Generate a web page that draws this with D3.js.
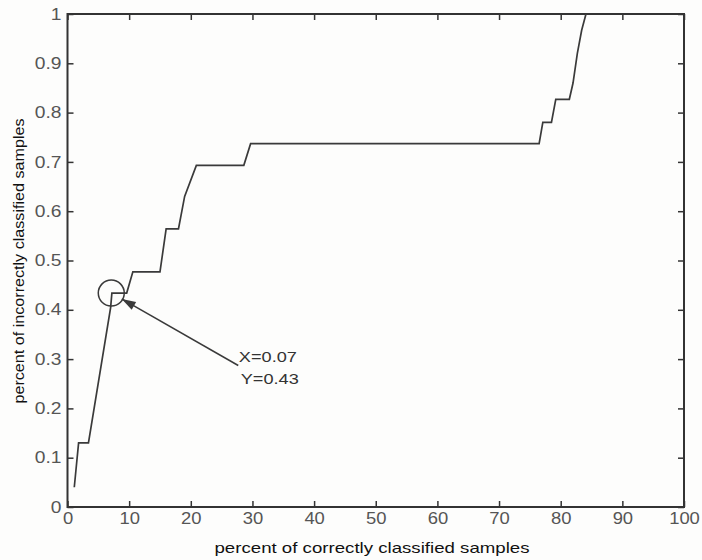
<!DOCTYPE html>
<html>
<head>
<meta charset="utf-8">
<script src="https://cdn.jsdelivr.net/npm/d3@7"></script>
<style>
body{margin:0;background:#fdfdfc;}
text{font-family:"Liberation Sans",Arial,sans-serif;}
</style>
</head>
<body>
<script>
// curve (x in percent, y as fraction)
var xCorrect=[1.1,1.8,3.4,7.0,7.2,9.6,10.6,15.0,16.0,18.0,19.0,20.9,28.6,29.7,76.5,77.1,78.5,79.2,81.4,82.0,82.7,83.4,84.1];
var yIncorrect=[0.04,0.13,0.13,0.405,0.434,0.434,0.477,0.477,0.564,0.564,0.63,0.693,0.693,0.737,0.737,0.78,0.78,0.827,0.827,0.86,0.92,0.967,1.0];
var xTicks=[0,10,20,30,40,50,60,70,80,90,100];
var yTicks=[0,0.1,0.2,0.3,0.4,0.5,0.6,0.7,0.8,0.9,1];
var yTickLabels=["0","0.1","0.2","0.3","0.4","0.5","0.6","0.7","0.8","0.9","1"];
var markPoint=[7.1,0.434];
var arrowFrom=[27.7,0.287],arrowTo=[8.8,0.422];
var noteLines=["X=0.07","Y=0.43"];
var noteX=[27.8,28.1],noteY=[0.294,0.249];

var W=702,H=560;
var x=d3.scaleLinear().domain([0,100]).range([67.5,684]);
var y=d3.scaleLinear().domain([0,1]).range([507,14]);

var svg=d3.select("body").append("svg").attr("width",W).attr("height",H);

function stretch(sel,k){
	sel.each(function(){
		var w=this.getComputedTextLength();
		d3.select(this).attr("textLength",w*k).attr("lengthAdjust","spacingAndGlyphs");
	});
}

// axes, ticks pointing in like matlab
var gx=svg.append("g").attr("transform","translate(0,"+y(0)+")")
	.call(d3.axisBottom(x).tickValues(xTicks).tickSizeInner(-6).tickSizeOuter(0).tickPadding(6));
var gy=svg.append("g").attr("transform","translate("+x(0)+",0)")
	.call(d3.axisLeft(y).tickValues(yTicks).tickFormat(function(d,i){return yTickLabels[i];}).tickSizeInner(-6).tickSizeOuter(0).tickPadding(6));
var gt=svg.append("g").attr("transform","translate(0,"+y(1)+")")
	.call(d3.axisTop(x).tickValues(xTicks).tickFormat("").tickSizeInner(-6).tickSizeOuter(0));
var gr=svg.append("g").attr("transform","translate("+x(100)+",0)")
	.call(d3.axisRight(y).tickValues(yTicks).tickFormat("").tickSizeInner(-6).tickSizeOuter(0));

[gx,gy,gt,gr].forEach(function(g){
	g.select(".domain").remove();
	g.selectAll("line").attr("stroke","#333").attr("stroke-width",1.5);
	g.selectAll("text").attr("fill","#555").style("font-size","16px");
});
stretch(gx.selectAll("text"),1.15);
stretch(gy.selectAll("text"),1.2);

svg.append("rect")
	.attr("x",x(0)).attr("y",y(1))
	.attr("width",x(100)-x(0)).attr("height",y(0)-y(1))
	.attr("fill","none").attr("stroke","#333").attr("stroke-width",2);

// the curve
var pts=xCorrect.map(function(d,i){return [d,yIncorrect[i]];});
svg.append("path")
	.attr("d",d3.line().x(function(d){return x(d[0]);}).y(function(d){return y(d[1]);})(pts))
	.attr("fill","none").attr("stroke","#3a3a3a").attr("stroke-width",1.7);

// marker circle
svg.append("circle")
	.attr("cx",x(markPoint[0])).attr("cy",y(markPoint[1])).attr("r",13)
	.attr("fill","none").attr("stroke","#3a3a3a").attr("stroke-width",1.5);

// arrow
var x1=x(arrowFrom[0]),y1=y(arrowFrom[1]),x2=x(arrowTo[0]),y2=y(arrowTo[1]);
svg.append("line").attr("x1",x1).attr("y1",y1).attr("x2",x2).attr("y2",y2)
	.attr("stroke","#3a3a3a").attr("stroke-width",1.5);
var ang=Math.atan2(y2-y1,x2-x1),L=14,hw=4.5;
var bx=x2-L*Math.cos(ang),by=y2-L*Math.sin(ang);
svg.append("polygon")
	.attr("points",[x2,y2,bx+hw*Math.sin(ang),by-hw*Math.cos(ang),bx-hw*Math.sin(ang),by+hw*Math.cos(ang)].join(","))
	.attr("fill","#3a3a3a");

svg.selectAll(".note").data(noteLines).enter().append("text")
	.attr("class","note")
	.attr("x",function(d,i){return x(noteX[i]);})
	.attr("y",function(d,i){return y(noteY[i]);})
	.attr("fill","#333").style("font-size","15px")
	.attr("textLength",58).attr("lengthAdjust","spacingAndGlyphs")
	.text(function(d){return d;});

// axis titles
svg.append("text")
	.attr("x",372).attr("y",553).attr("text-anchor","middle")
	.attr("fill","#111").style("font-size","15px")
	.attr("textLength",315).attr("lengthAdjust","spacingAndGlyphs")
	.text("percent of correctly classified samples");
svg.append("text")
	.attr("transform","translate(24,261) rotate(-90)").attr("text-anchor","middle")
	.attr("fill","#111").style("font-size","15px")
	.attr("textLength",285).attr("lengthAdjust","spacingAndGlyphs")
	.text("percent of incorrectly classified samples");
</script>
</body>
</html>
